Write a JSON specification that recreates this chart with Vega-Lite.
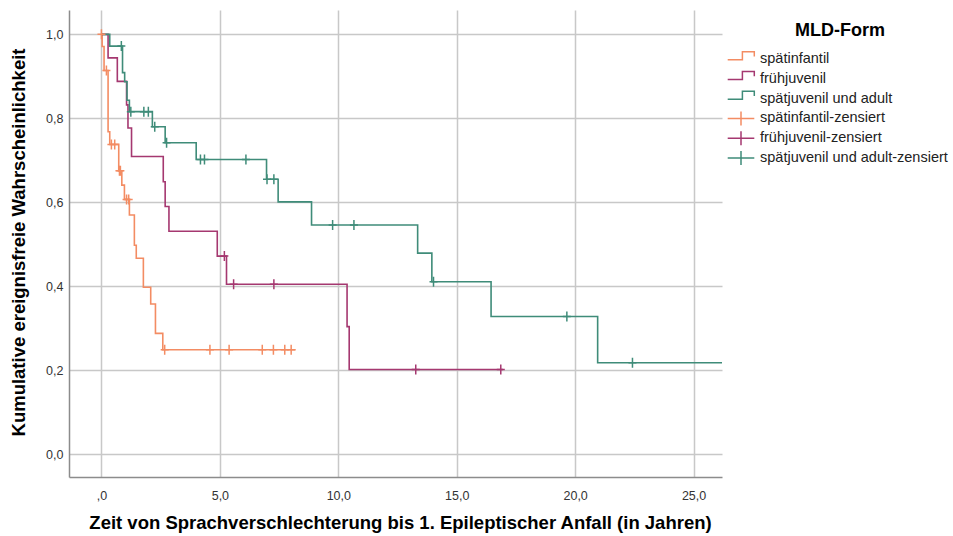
{
  "$schema": "https://vega.github.io/schema/vega-lite/v6.json",
  "width": 653,
  "height": 467,
  "autosize": {"type": "none"},
  "padding": {"left": 69, "top": 10, "right": 231, "bottom": 59},
  "background": "white",
  "config": {
    "font": "Liberation Sans",
    "view": {"stroke": null},
    "axis": {
      "grid": true,
      "gridColor": "#c8c8c8",
      "gridWidth": 1.5,
      "domainColor": "#8c8c8c",
      "domainWidth": 1.5,
      "ticks": false,
      "tickSize": 0,
      "labelFont": "Liberation Sans",
      "labelFontSize": 12.5,
      "labelColor": "#333333",
      "titleFont": "Liberation Sans",
      "titleFontSize": 18.5,
      "titleFontWeight": "bold",
      "titleColor": "#000000"
    }
  },
  "datasets": {
    "kurven": [
      {"serie": "spätinfantil", "t": 0, "s": 1.0},
      {"serie": "spätinfantil", "t": 0.03, "s": 0.971},
      {"serie": "spätinfantil", "t": 0.11, "s": 0.914},
      {"serie": "spätinfantil", "t": 0.28, "s": 0.768},
      {"serie": "spätinfantil", "t": 0.35, "s": 0.738},
      {"serie": "spätinfantil", "t": 0.73, "s": 0.675},
      {"serie": "spätinfantil", "t": 0.86, "s": 0.641},
      {"serie": "spätinfantil", "t": 0.97, "s": 0.607},
      {"serie": "spätinfantil", "t": 1.18, "s": 0.57},
      {"serie": "spätinfantil", "t": 1.39, "s": 0.498},
      {"serie": "spätinfantil", "t": 1.47, "s": 0.467},
      {"serie": "spätinfantil", "t": 1.77, "s": 0.398},
      {"serie": "spätinfantil", "t": 2.08, "s": 0.358},
      {"serie": "spätinfantil", "t": 2.28, "s": 0.288},
      {"serie": "spätinfantil", "t": 2.59, "s": 0.249},
      {"serie": "spätinfantil", "t": 8.2, "s": 0.249},
      {"serie": "frühjuvenil", "t": 0, "s": 1.0},
      {"serie": "frühjuvenil", "t": 0.28, "s": 0.944},
      {"serie": "frühjuvenil", "t": 0.67, "s": 0.888},
      {"serie": "frühjuvenil", "t": 1.06, "s": 0.832},
      {"serie": "frühjuvenil", "t": 1.12, "s": 0.777},
      {"serie": "frühjuvenil", "t": 1.27, "s": 0.709},
      {"serie": "frühjuvenil", "t": 2.61, "s": 0.649},
      {"serie": "frühjuvenil", "t": 2.69, "s": 0.59},
      {"serie": "frühjuvenil", "t": 2.85, "s": 0.531},
      {"serie": "frühjuvenil", "t": 4.89, "s": 0.472},
      {"serie": "frühjuvenil", "t": 5.28, "s": 0.405},
      {"serie": "frühjuvenil", "t": 10.37, "s": 0.304},
      {"serie": "frühjuvenil", "t": 10.46, "s": 0.202},
      {"serie": "frühjuvenil", "t": 16.95, "s": 0.202},
      {"serie": "spätjuvenil und adult", "t": 0, "s": 1.0},
      {"serie": "spätjuvenil und adult", "t": 0.35, "s": 0.972},
      {"serie": "spätjuvenil und adult", "t": 0.89, "s": 0.909},
      {"serie": "spätjuvenil und adult", "t": 0.98, "s": 0.887},
      {"serie": "spätjuvenil und adult", "t": 1.08, "s": 0.843},
      {"serie": "spätjuvenil und adult", "t": 1.18, "s": 0.816},
      {"serie": "spätjuvenil und adult", "t": 2.15, "s": 0.78},
      {"serie": "spätjuvenil und adult", "t": 2.69, "s": 0.742},
      {"serie": "spätjuvenil und adult", "t": 4.0, "s": 0.702},
      {"serie": "spätjuvenil und adult", "t": 6.97, "s": 0.655},
      {"serie": "spätjuvenil und adult", "t": 7.46, "s": 0.601},
      {"serie": "spätjuvenil und adult", "t": 8.87, "s": 0.546},
      {"serie": "spätjuvenil und adult", "t": 13.35, "s": 0.479},
      {"serie": "spätjuvenil und adult", "t": 13.95, "s": 0.411},
      {"serie": "spätjuvenil und adult", "t": 16.45, "s": 0.328},
      {"serie": "spätjuvenil und adult", "t": 20.95, "s": 0.218},
      {"serie": "spätjuvenil und adult", "t": 26.5, "s": 0.218}
    ],
    "zensiert": [
      {"serie": "spätinfantil-zensiert", "t": 0, "s": 1.0},
      {"serie": "spätinfantil-zensiert", "t": 0.21, "s": 0.914},
      {"serie": "spätinfantil-zensiert", "t": 0.42, "s": 0.738},
      {"serie": "spätinfantil-zensiert", "t": 0.56, "s": 0.738},
      {"serie": "spätinfantil-zensiert", "t": 0.76, "s": 0.675},
      {"serie": "spätinfantil-zensiert", "t": 0.8, "s": 0.675},
      {"serie": "spätinfantil-zensiert", "t": 1.06, "s": 0.607},
      {"serie": "spätinfantil-zensiert", "t": 1.15, "s": 0.607},
      {"serie": "spätinfantil-zensiert", "t": 2.67, "s": 0.249},
      {"serie": "spätinfantil-zensiert", "t": 4.58, "s": 0.249},
      {"serie": "spätinfantil-zensiert", "t": 5.39, "s": 0.249},
      {"serie": "spätinfantil-zensiert", "t": 6.79, "s": 0.249},
      {"serie": "spätinfantil-zensiert", "t": 7.26, "s": 0.249},
      {"serie": "spätinfantil-zensiert", "t": 7.74, "s": 0.249},
      {"serie": "spätinfantil-zensiert", "t": 8.01, "s": 0.249},
      {"serie": "frühjuvenil-zensiert", "t": 5.19, "s": 0.472},
      {"serie": "frühjuvenil-zensiert", "t": 5.58, "s": 0.405},
      {"serie": "frühjuvenil-zensiert", "t": 7.28, "s": 0.405},
      {"serie": "frühjuvenil-zensiert", "t": 13.27, "s": 0.202},
      {"serie": "frühjuvenil-zensiert", "t": 16.86, "s": 0.202},
      {"serie": "spätjuvenil und adult-zensiert", "t": 0.84, "s": 0.972},
      {"serie": "spätjuvenil und adult-zensiert", "t": 1.24, "s": 0.816},
      {"serie": "spätjuvenil und adult-zensiert", "t": 1.79, "s": 0.816},
      {"serie": "spätjuvenil und adult-zensiert", "t": 1.98, "s": 0.816},
      {"serie": "spätjuvenil und adult-zensiert", "t": 2.25, "s": 0.78},
      {"serie": "spätjuvenil und adult-zensiert", "t": 2.75, "s": 0.742},
      {"serie": "spätjuvenil und adult-zensiert", "t": 4.18, "s": 0.702},
      {"serie": "spätjuvenil und adult-zensiert", "t": 4.35, "s": 0.702},
      {"serie": "spätjuvenil und adult-zensiert", "t": 6.1, "s": 0.702},
      {"serie": "spätjuvenil und adult-zensiert", "t": 6.99, "s": 0.655},
      {"serie": "spätjuvenil und adult-zensiert", "t": 7.28, "s": 0.655},
      {"serie": "spätjuvenil und adult-zensiert", "t": 9.76, "s": 0.546},
      {"serie": "spätjuvenil und adult-zensiert", "t": 10.66, "s": 0.546},
      {"serie": "spätjuvenil und adult-zensiert", "t": 14.02, "s": 0.411},
      {"serie": "spätjuvenil und adult-zensiert", "t": 19.65, "s": 0.328},
      {"serie": "spätjuvenil und adult-zensiert", "t": 22.42, "s": 0.218}
    ]
  },
  "layer": [
    {
      "data": {"name": "kurven"},
      "mark": {"type": "line", "interpolate": "step-after", "strokeWidth": 1.6, "clip": true},
      "encoding": {
        "x": {
          "field": "t",
          "type": "quantitative",
          "scale": {"domain": [-1.37, 26.2], "nice": false, "zero": false},
          "axis": {
            "values": [0, 5, 10, 15, 20, 25],
            "labelExpr": "datum.value == 0 ? ',0' : replace(format(datum.value, '.1f'), '.', ',')",
            "labelPadding": 12,
            "title": "Zeit von Sprachverschlechterung bis 1. Epileptischer Anfall (in Jahren)",
            "titleX": 331,
            "titleY": 45,
            "titleAlign": "center",
            "titleBaseline": "middle"
          }
        },
        "y": {
          "field": "s",
          "type": "quantitative",
          "scale": {"domain": [-0.054, 1.058], "nice": false, "zero": false},
          "axis": {
            "values": [0, 0.2, 0.4, 0.6, 0.8, 1.0],
            "labelExpr": "replace(format(datum.value, '.1f'), '.', ',')",
            "labelPadding": 6,
            "title": "Kumulative ereignisfreie Wahrscheinlichkeit",
            "titleX": -51,
            "titleY": 232,
            "titleAlign": "center",
            "titleBaseline": "middle"
          }
        },
        "color": {
          "field": "serie",
          "type": "nominal",
          "scale": {
            "domain": ["spätinfantil", "frühjuvenil", "spätjuvenil und adult", "spätinfantil-zensiert", "frühjuvenil-zensiert", "spätjuvenil und adult-zensiert"],
            "range": ["#f38c63", "#a53870", "#3f8c79", "#f38c63", "#a53870", "#3f8c79"]
          },
          "legend": {
            "title": "MLD-Form",
            "orient": "none",
            "legendX": 664,
            "legendY": 12,
            "padding": 0,
            "titleFont": "Liberation Sans",
            "titleFontSize": 18,
            "titleFontWeight": "bold",
            "titleColor": "#000000",
            "titleAnchor": "middle",
            "titlePadding": 11,
            "labelFont": "Liberation Sans",
            "labelFontSize": 14.5,
            "labelColor": "#222222",
            "labelOffset": 11,
            "labelLimit": 300,
            "symbolSize": 196,
            "symbolStrokeWidth": 1.5,
            "rowPadding": -1.2,
            "gridAlign": "all",
            "encode": {
              "symbols": {
                "update": {
                  "shape": {"signal": "indexof(datum.value, 'zensiert') >= 0 ? 'M-1.9,0H1.9M0,-1V1' : 'M-1.9,0.1H0.2V-1.04H1.9V-0.37'"},
                  "size": {"value": 196},
                  "fill": {"value": "transparent"},
                  "stroke": {"scale": "color", "field": "value"},
                  "strokeWidth": {"value": 1.5},
                  "opacity": {"value": 1}
                }
              }
            }
          }
        }
      }
    },
    {
      "data": {"name": "zensiert"},
      "mark": {"type": "point", "shape": "M-0.8,0H0.8M0,-1V1", "size": 100, "filled": false, "strokeWidth": 1.5, "opacity": 1},
      "encoding": {
        "x": {"field": "t", "type": "quantitative"},
        "y": {"field": "s", "type": "quantitative"},
        "color": {"field": "serie", "type": "nominal"}
      }
    }
  ]
}
